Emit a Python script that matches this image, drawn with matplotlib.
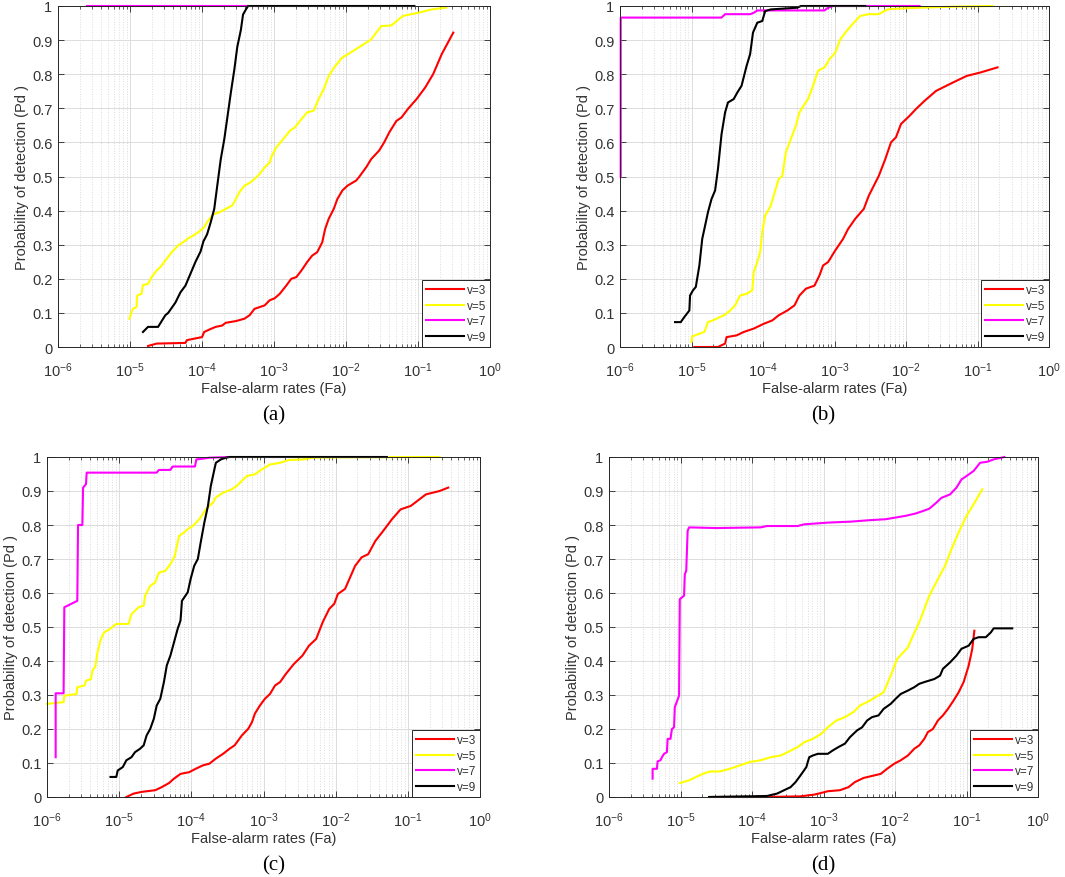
import numpy as np
import matplotlib
matplotlib.use("Agg")
import matplotlib.pyplot as plt
from matplotlib.ticker import LogLocator, NullFormatter, NullLocator

# ---- data: x values are log10(Fa), y values are Pd ----
series_labels = ["v=3", "v=5", "v=7", "v=9"]
series_colors = ["#ff0000", "#ffff00", "#ff00ff", "#000000"]

# panel (a)
a_v3_x = [-4.75, -4.63, -4.23, -4.21, -4.12, -4.00, -3.97, -3.90, -3.81, -3.72, -3.67, -3.53,
          -3.41, -3.34, -3.27, -3.20, -3.13, -3.06, -2.99, -2.92, -2.83, -2.76, -2.69, -2.62,
          -2.54, -2.47, -2.40, -2.33, -2.29, -2.24, -2.17, -2.12, -2.05, -1.98, -1.86, -1.82,
          -1.72, -1.65, -1.54, -1.47, -1.40, -1.30, -1.23, -1.14, -1.02, -0.90, -0.79, -0.67, -0.51]
a_v3_y = [0.003, 0.01, 0.012, 0.02, 0.024, 0.029, 0.044, 0.051, 0.059, 0.063, 0.071, 0.076,
          0.083, 0.093, 0.112, 0.117, 0.122, 0.137, 0.143, 0.156, 0.18, 0.2, 0.205, 0.224,
          0.249, 0.268, 0.278, 0.307, 0.346, 0.376, 0.405, 0.434, 0.459, 0.473, 0.488, 0.498,
          0.527, 0.551, 0.576, 0.6, 0.629, 0.663, 0.673, 0.698, 0.727, 0.761, 0.8, 0.859, 0.922]
a_v5_x = [-5.01, -4.96, -4.91, -4.90, -4.84, -4.82, -4.75, -4.70, -4.63, -4.56, -4.49, -4.42,
          -4.33, -4.23, -4.19, -4.12, -4.05, -3.97, -3.93, -3.88, -3.83, -3.76, -3.67, -3.58,
          -3.53, -3.48, -3.41, -3.34, -3.27, -3.20, -3.13, -3.06, -3.04, -2.97, -2.87, -2.78,
          -2.71, -2.64, -2.54, -2.45, -2.38, -2.31, -2.24, -2.15, -2.05, -1.94, -1.79, -1.65,
          -1.58, -1.51, -1.37, -1.21, -1.00, -0.81, -0.61]
a_v5_y = [0.083, 0.112, 0.117, 0.151, 0.156, 0.182, 0.185, 0.205, 0.224, 0.239, 0.259, 0.278,
          0.298, 0.312, 0.319, 0.327, 0.337, 0.351, 0.366, 0.38, 0.39, 0.395, 0.405, 0.415,
          0.434, 0.454, 0.473, 0.481, 0.493, 0.507, 0.527, 0.541, 0.556, 0.585, 0.61, 0.634,
          0.644, 0.663, 0.688, 0.693, 0.727, 0.756, 0.795, 0.824, 0.849, 0.863, 0.883, 0.902,
          0.922, 0.941, 0.943, 0.971, 0.98, 0.99, 0.995]
a_v7_x = [-5.60, -3.37]
a_v7_y = [1.0, 1.0]
a_v9_x = [-4.82, -4.75, -4.61, -4.51, -4.47, -4.37, -4.30, -4.23, -4.16, -4.09, -4.02, -3.98,
          -3.93, -3.88, -3.83, -3.79, -3.74, -3.69, -3.65, -3.60, -3.55, -3.51, -3.46, -3.43,
          -3.39, -3.36, -1.05]
a_v9_y = [0.044, 0.059, 0.059, 0.093, 0.10, 0.13, 0.16, 0.18, 0.215, 0.25, 0.28, 0.31,
          0.33, 0.365, 0.405, 0.47, 0.55, 0.61, 0.67, 0.745, 0.815, 0.88, 0.93, 0.975,
          0.99, 1.0, 1.0]

# panel (b)
b_v3_x = [-4.96, -4.63, -4.53, -4.51, -4.37, -4.27, -4.13, -3.99, -3.87, -3.78, -3.66, -3.56,
          -3.49, -3.40, -3.28, -3.21, -3.16, -3.09, -2.99, -2.88, -2.81, -2.71, -2.59, -2.52,
          -2.45, -2.38, -2.29, -2.21, -2.14, -2.07, -1.95, -1.86, -1.74, -1.58, -1.34, -1.15,
          -0.96, -0.72]
b_v3_y = [0.0, 0.0, 0.01, 0.029, 0.034, 0.044, 0.054, 0.068, 0.078, 0.093, 0.107, 0.122,
          0.151, 0.171, 0.18, 0.21, 0.239, 0.249, 0.283, 0.317, 0.346, 0.376, 0.405, 0.444,
          0.473, 0.502, 0.551, 0.6, 0.615, 0.654, 0.678, 0.698, 0.722, 0.751, 0.776, 0.795,
          0.805, 0.82]
b_v5_x = [-5.00, -4.99, -4.89, -4.82, -4.77, -4.70, -4.60, -4.53, -4.46, -4.39, -4.32, -4.23,
          -4.15, -4.13, -4.08, -4.04, -4.01, -3.97, -3.89, -3.85, -3.78, -3.73, -3.68, -3.61,
          -3.54, -3.49, -3.42, -3.37, -3.30, -3.23, -3.14, -3.07, -2.99, -2.92, -2.83, -2.73,
          -2.64, -2.52, -2.38, -2.26, -2.14, -1.81, -1.34, -0.79]
b_v5_y = [0.015, 0.031, 0.039, 0.044, 0.073, 0.078, 0.088, 0.095, 0.107, 0.122, 0.151, 0.156,
          0.166, 0.22, 0.249, 0.278, 0.337, 0.385, 0.415, 0.444, 0.493, 0.502, 0.571, 0.61,
          0.649, 0.688, 0.712, 0.727, 0.766, 0.81, 0.82, 0.844, 0.863, 0.902, 0.927, 0.951,
          0.971, 0.976, 0.976, 0.99, 0.992, 0.995, 0.998, 1.0]
b_v7_x = [-5.99, -5.99, -4.58, -4.53, -4.18, -4.13, -4.08, -3.14, -3.09, -3.02, -1.81]
b_v7_y = [0.498, 0.966, 0.966, 0.976, 0.976, 0.98, 0.987, 0.987, 0.995, 1.0, 1.0]
b_v9_x = [-5.23, -5.15, -5.10, -5.03, -5.02, -4.98, -4.94, -4.89, -4.85, -4.82, -4.77, -4.72,
          -4.67, -4.63, -4.58, -4.53, -4.49, -4.41, -4.36, -4.30, -4.23, -4.18, -4.14, -4.08,
          -4.01, -3.97, -3.89, -3.52, -3.47, -2.57]
b_v9_y = [0.073, 0.073, 0.088, 0.107, 0.151, 0.166, 0.176, 0.239, 0.317, 0.346, 0.395, 0.434,
          0.459, 0.522, 0.624, 0.688, 0.717, 0.727, 0.746, 0.766, 0.824, 0.859, 0.922, 0.951,
          0.956, 0.985, 0.99, 0.995, 1.0, 1.0]

# panel (c)
c_v3_x = [-4.90, -4.80, -4.69, -4.50, -4.41, -4.31, -4.24, -4.15, -4.03, -3.94, -3.84, -3.75,
          -3.66, -3.56, -3.47, -3.40, -3.30, -3.21, -3.16, -3.12, -3.05, -2.98, -2.91, -2.84,
          -2.77, -2.69, -2.58, -2.46, -2.37, -2.27, -2.18, -2.09, -2.02, -1.97, -1.87, -1.73,
          -1.64, -1.55, -1.45, -1.34, -1.22, -1.10, -0.96, -0.75, -0.56, -0.44]
c_v3_y = [0.0, 0.01, 0.015, 0.02, 0.029, 0.041, 0.054, 0.068, 0.073, 0.083, 0.093, 0.098,
          0.113, 0.127, 0.142, 0.152, 0.181, 0.201, 0.22, 0.245, 0.269, 0.289, 0.303, 0.328,
          0.338, 0.362, 0.391, 0.416, 0.445, 0.465, 0.514, 0.553, 0.568, 0.597, 0.612, 0.68,
          0.705, 0.714, 0.753, 0.783, 0.817, 0.846, 0.856, 0.89, 0.9, 0.91]
c_v5_x = [-6.00, -5.77, -5.76, -5.59, -5.58, -5.48, -5.46, -5.39, -5.37, -5.33, -5.30, -5.26,
          -5.21, -5.13, -5.04, -4.87, -4.83, -4.73, -4.66, -4.64, -4.57, -4.50, -4.45, -4.36,
          -4.29, -4.23, -4.17, -4.10, -4.05, -3.98, -3.89, -3.84, -3.80, -3.70, -3.66, -3.56,
          -3.44, -3.37, -3.30, -3.23, -3.12, -3.02, -2.91, -2.77, -2.65, -2.44, -2.32, -1.97,
          -0.56]
c_v5_y = [0.274, 0.279, 0.298, 0.303, 0.323, 0.328, 0.342, 0.347, 0.372, 0.384, 0.426, 0.46,
          0.484, 0.494, 0.509, 0.509, 0.538, 0.558, 0.563, 0.592, 0.621, 0.631, 0.66, 0.665,
          0.685, 0.709, 0.768, 0.778, 0.788, 0.797, 0.817, 0.832, 0.846, 0.866, 0.881, 0.895,
          0.905, 0.915, 0.93, 0.944, 0.949, 0.964, 0.978, 0.983, 0.991, 0.993, 0.998, 0.999,
          1.0]
c_v7_x = [-5.88, -5.88, -5.77, -5.76, -5.58, -5.57, -5.51, -5.50, -5.46, -5.45, -4.48, -4.45,
          -4.29, -4.26, -3.95, -3.93, -3.84, -3.75, -3.47]
c_v7_y = [0.117, 0.305, 0.305, 0.558, 0.577, 0.8, 0.8, 0.91, 0.92, 0.954, 0.954, 0.962,
          0.962, 0.972, 0.972, 0.993, 0.995, 0.998, 1.0]
c_v9_x = [-5.12, -5.04, -5.02, -4.95, -4.90, -4.83, -4.78, -4.71, -4.66, -4.62, -4.57, -4.52,
          -4.48, -4.43, -4.38, -4.34, -4.29, -4.24, -4.19, -4.15, -4.13, -4.05, -4.01, -3.96,
          -3.91, -3.87, -3.82, -3.77, -3.73, -3.68, -3.66, -3.59, -3.52, -3.47, -1.29]
c_v9_y = [0.059, 0.059, 0.078, 0.088, 0.108, 0.117, 0.132, 0.142, 0.152, 0.181, 0.2, 0.23,
          0.269, 0.289, 0.338, 0.387, 0.416, 0.455, 0.494, 0.519, 0.577, 0.602, 0.641, 0.68,
          0.7, 0.749, 0.807, 0.856, 0.915, 0.964, 0.983, 0.993, 0.998, 1.0, 1.0]

# panel (d)
d_v3_x = [-4.59, -3.79, -3.32, -3.13, -3.03, -2.94, -2.77, -2.65, -2.56, -2.44, -2.32, -2.20,
          -2.11, -2.01, -1.92, -1.82, -1.73, -1.66, -1.59, -1.54, -1.47, -1.40, -1.33, -1.26,
          -1.18, -1.11, -1.04, -0.97, -0.92, -0.89]
d_v3_y = [0.0, 0.0, 0.002, 0.007, 0.012, 0.017, 0.02, 0.029, 0.044, 0.056, 0.062, 0.068,
          0.083, 0.098, 0.108, 0.122, 0.142, 0.152, 0.171, 0.191, 0.2, 0.225, 0.24, 0.259,
          0.284, 0.308, 0.338, 0.386, 0.435, 0.489]
d_v5_x = [-5.01, -4.88, -4.78, -4.69, -4.59, -4.45, -4.31, -4.17, -4.03, -3.88, -3.74, -3.60,
          -3.50, -3.36, -3.27, -3.15, -3.03, -2.94, -2.82, -2.70, -2.58, -2.49, -2.39, -2.27,
          -2.16, -2.06, -1.97, -1.82, -1.75, -1.66, -1.59, -1.52, -1.40, -1.30, -1.21, -1.11,
          -1.00, -0.90, -0.78]
d_v5_y = [0.041, 0.049, 0.059, 0.068, 0.075, 0.075, 0.083, 0.093, 0.103, 0.108, 0.117, 0.122,
          0.132, 0.147, 0.161, 0.171, 0.186, 0.205, 0.225, 0.235, 0.25, 0.269, 0.279, 0.294,
          0.308, 0.357, 0.406, 0.44, 0.474, 0.514, 0.553, 0.592, 0.641, 0.68, 0.729, 0.778,
          0.827, 0.861, 0.905]
d_v7_x = [-5.39, -5.39, -5.33, -5.32, -5.28, -5.26, -5.23, -5.19, -5.18, -5.14, -5.12, -5.09,
          -5.08, -5.02, -5.01, -4.95, -4.94, -4.92, -4.90, -4.88, -4.50, -3.88, -3.79, -3.36,
          -3.27, -2.94, -2.61, -2.37, -2.13, -1.99, -1.85, -1.71, -1.61, -1.52, -1.42, -1.35,
          -1.23, -1.14, -1.07, -1.00, -0.90, -0.81, -0.71, -0.62, -0.47]
d_v7_y = [0.054, 0.083, 0.083, 0.105, 0.108, 0.117, 0.127, 0.132, 0.171, 0.171, 0.2, 0.205,
          0.264, 0.298, 0.582, 0.592, 0.655, 0.665, 0.783, 0.793, 0.791, 0.793, 0.797, 0.797,
          0.802, 0.807, 0.81, 0.814, 0.817, 0.822, 0.827, 0.834, 0.841, 0.848, 0.866, 0.88,
          0.89, 0.91, 0.934, 0.944, 0.959, 0.983, 0.986, 0.993, 1.0]
d_v9_x = [-4.60, -3.79, -3.65, -3.55, -3.46, -3.39, -3.32, -3.24, -3.20, -3.15, -3.08, -2.94,
          -2.87, -2.79, -2.70, -2.63, -2.53, -2.46, -2.39, -2.32, -2.23, -2.16, -2.06, -1.99,
          -1.92, -1.82, -1.73, -1.66, -1.59, -1.45, -1.37, -1.33, -1.23, -1.14, -1.07, -0.97,
          -0.90, -0.83, -0.73, -0.66, -0.62, -0.36]
d_v9_y = [0.0, 0.003, 0.01, 0.02, 0.029, 0.044, 0.064, 0.088, 0.117, 0.122, 0.127, 0.127,
          0.137, 0.147, 0.157, 0.176, 0.196, 0.205, 0.225, 0.235, 0.24, 0.259, 0.274, 0.289,
          0.303, 0.313, 0.323, 0.333, 0.338, 0.347, 0.357, 0.377, 0.396, 0.416, 0.436, 0.445,
          0.465, 0.47, 0.47, 0.484, 0.496, 0.496]

panel_names = ["(a)", "(b)", "(c)", "(d)"]
y_ticks = [0, 0.1, 0.2, 0.3, 0.4, 0.5, 0.6, 0.7, 0.8, 0.9, 1]
y_tick_labels = ["0", "0.1", "0.2", "0.3", "0.4", "0.5", "0.6", "0.7", "0.8", "0.9", "1"]

panels = [
    [(a_v3_x, a_v3_y), (a_v5_x, a_v5_y), (a_v7_x, a_v7_y), (a_v9_x, a_v9_y)],
    [(b_v3_x, b_v3_y), (b_v5_x, b_v5_y), (b_v7_x, b_v7_y), (b_v9_x, b_v9_y)],
    [(c_v3_x, c_v3_y), (c_v5_x, c_v5_y), (c_v7_x, c_v7_y), (c_v9_x, c_v9_y)],
    [(d_v3_x, d_v3_y), (d_v5_x, d_v5_y), (d_v7_x, d_v7_y), (d_v9_x, d_v9_y)],
]

# axes boxes in pixels: left, top, right, bottom
boxes = [(58, 7, 490, 348), (620, 7, 1049, 348), (47, 458, 480, 798), (609, 458, 1038, 798)]
caption_pos = [(274, 416), (823, 416), (274, 866), (823, 866)]

W, H = 1065, 878
plt.rcParams['font.family'] = ['Liberation Sans', 'DejaVu Sans']
plt.rcParams['mathtext.default'] = 'regular'
txt = '#333333'

fig = plt.figure(figsize=(W / 100, H / 100), dpi=100)

for i in range(4):
    l, t, r, b = boxes[i]
    ax = fig.add_axes([l / W, 1 - b / H, (r - l) / W, (b - t) / H])
    for (xs, ys), lab, col in zip(panels[i], series_labels, series_colors):
        ax.plot(10.0 ** np.array(xs), ys, color=col, lw=1.5, label=lab, clip_on=False)

    ax.set_xscale('log')
    ax.set_xlim(1e-6, 1)
    ax.set_ylim(0, 1)
    ax.xaxis.set_major_locator(LogLocator(base=10, numticks=10))
    ax.xaxis.set_minor_locator(LogLocator(base=10, subs=np.arange(2, 10), numticks=20))
    ax.xaxis.set_minor_formatter(NullFormatter())
    ax.set_yticks(y_ticks)
    ax.set_yticklabels(y_tick_labels)
    ax.yaxis.set_minor_locator(NullLocator())

    ax.grid(True, which='major', color='#dcdcdc', lw=0.7)
    ax.grid(True, which='minor', axis='x', color='#dcdcdc', lw=0.7, ls=':')
    ax.set_axisbelow(True)
    ax.tick_params(which='both', direction='in', top=True, right=True,
                   colors='#262626', labelcolor=txt, labelsize=10.5)
    ax.tick_params(which='major', length=4, width=0.6)
    ax.tick_params(which='minor', length=2, width=0.5)
    ax.tick_params(axis='x', which='major', pad=10)
    ax.tick_params(axis='y', which='major', pad=4)
    for sp in ax.spines.values():
        sp.set_color('#262626')
        sp.set_linewidth(0.7)

    ax.set_xlabel('False-alarm rates (Fa)', fontsize=10.5, color=txt, labelpad=1)
    ax.set_ylabel('Probability of detection (Pd )', fontsize=10.5, color=txt, labelpad=2)

    leg = ax.legend(loc='lower right', fontsize=8.5, borderaxespad=0, fancybox=False,
                    framealpha=1, edgecolor='#262626', handlelength=3.2,
                    handletextpad=0.2, labelspacing=0.3, borderpad=0.35)
    leg.get_frame().set_linewidth(0.7)
    for t_ in leg.get_texts():
        t_.set_color(txt)

    cx, cy = caption_pos[i]
    fig.text(cx / W, 1 - cy / H, panel_names[i], ha='center', va='center',
             fontsize=15, family=['Liberation Serif', 'DejaVu Serif'], color='black')

fig.savefig('out.png', dpi=100)
